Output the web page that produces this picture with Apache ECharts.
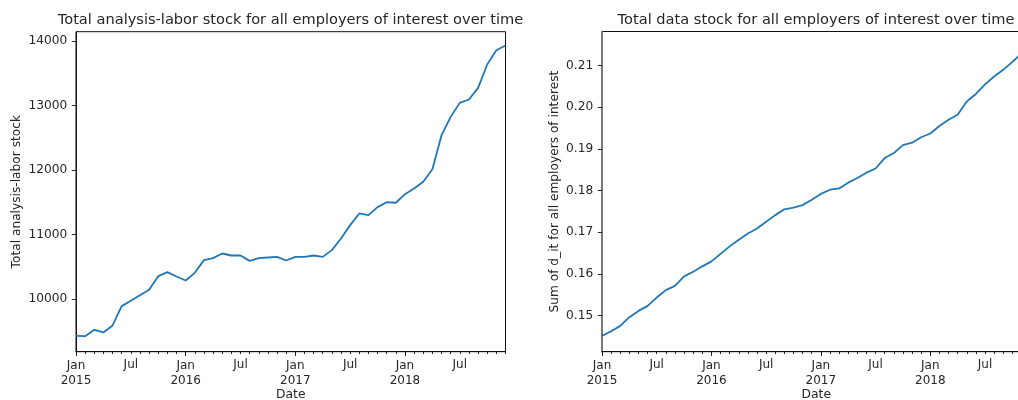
<!DOCTYPE html>
<html>
<head>
<meta charset="utf-8">
<script src="https://cdn.jsdelivr.net/npm/echarts@6/dist/echarts.min.js"></script>
<style>
html,body{margin:0;padding:0;background:#fff;}
#chart{width:1018px;height:400px;}
</style>
</head>
<body>
<div id="chart"></div>
<script>
// ---- data ----
const months = [
  '2015-01','2015-02','2015-03','2015-04','2015-05','2015-06','2015-07','2015-08','2015-09','2015-10','2015-11','2015-12',
  '2016-01','2016-02','2016-03','2016-04','2016-05','2016-06','2016-07','2016-08','2016-09','2016-10','2016-11','2016-12',
  '2017-01','2017-02','2017-03','2017-04','2017-05','2017-06','2017-07','2017-08','2017-09','2017-10','2017-11','2017-12',
  '2018-01','2018-02','2018-03','2018-04','2018-05','2018-06','2018-07','2018-08','2018-09','2018-10','2018-11','2018-12'
];
const laborStock = [
  9426, 9420, 9519, 9479, 9587, 9887, 9969, 10057, 10140, 10352, 10414, 10347,
  10285, 10403, 10600, 10631, 10703, 10672, 10672, 10589, 10631, 10641, 10651, 10594,
  10651, 10651, 10672, 10651, 10755, 10936, 11143, 11324, 11298, 11422, 11499, 11490,
  11623, 11711, 11817, 12011, 12538, 12822, 13039, 13091, 13271, 13634, 13856, 13929
];
const dataStock = [
  0.1451, 0.1462, 0.1475, 0.1496, 0.1511, 0.1523, 0.1543, 0.1561, 0.1571, 0.1594, 0.1605, 0.1618,
  0.1630, 0.1648, 0.1666, 0.1682, 0.1697, 0.1709, 0.1725, 0.1741, 0.1755, 0.1759, 0.1765, 0.1778,
  0.1792, 0.1802, 0.1805, 0.1819, 0.1830, 0.1843, 0.1853, 0.1878, 0.1890, 0.1909, 0.1915, 0.1928,
  0.1937, 0.1955, 0.1970, 0.1982, 0.2014, 0.2032, 0.2055, 0.2074, 0.2090, 0.2109, 0.2129, 0.2146
];
const leftTicks = [10000, 11000, 12000, 13000, 14000];
const rightTicks = [0.15, 0.16, 0.17, 0.18, 0.19, 0.20, 0.21];
const monthNames = {'01': 'Jan', '07': 'Jul'};

const leftTitle = 'Total analysis-labor stock for all employers of interest over time';
const rightTitle = 'Total data stock for all employers of interest over time';
const leftYName = 'Total analysis-labor stock';
const rightYName = 'Sum of d_it for all employers of interest';
const xName = 'Date';

// ---- styling ----
const FONT = 'DejaVu Sans';
const TXT = '#262626';
const BLUE = '#1f77b4';

const grids = [
  {left: 76, top: 31.7, width: 429.5, height: 320, show: true, borderColor: '#111', borderWidth: 1,
   backgroundColor: 'transparent', containLabel: false, outerBoundsMode: 'none'},
  {left: 602, top: 31.5, width: 428.6, height: 320.2, show: true, borderColor: '#111', borderWidth: 1,
   backgroundColor: 'transparent', containLabel: false, outerBoundsMode: 'none'}
];

function isJan(v) { return v.slice(5) === '01'; }
function isJul(v) { return v.slice(5) === '07'; }

function minorX(gi) {
  return {
    type: 'category', gridIndex: gi, data: months, boundaryGap: false, position: 'bottom',
    axisLine: {show: true, lineStyle: {color: '#111', width: 1}},
    axisTick: {show: true, interval: 0, length: 2.4, lineStyle: {color: '#111', width: 0.9}},
    axisLabel: {
      show: true, interval: (i, v) => isJul(v), margin: 5.6,
      fontFamily: FONT, fontSize: 12, color: TXT, verticalAlign: 'top', lineHeight: 14.4,
      formatter: v => isJul(v) ? monthNames['07'] : ''
    },
    splitLine: {show: false},
    name: xName, nameLocation: 'middle', nameGap: 37,
    nameTextStyle: {fontFamily: FONT, fontSize: 12.3, color: TXT, verticalAlign: 'top'}
  };
}
function majorX(gi) {
  return {
    type: 'category', gridIndex: gi, data: months, boundaryGap: false, position: 'bottom',
    axisLine: {show: false},
    axisTick: {show: true, interval: (i, v) => isJan(v), length: 4.3, lineStyle: {color: '#111', width: 0.9}},
    axisLabel: {
      show: true, interval: (i, v) => isJan(v), margin: 7.2,
      fontFamily: FONT, fontSize: 12, color: TXT, verticalAlign: 'top', lineHeight: 14.6,
      formatter: v => isJan(v) ? monthNames['01'] + '\n' + v.slice(0, 4) : ''
    },
    splitLine: {show: false}
  };
}
function yAxis(gi, min, max, ticks, name, gap, fmt, lineColor, lineWidth) {
  return {
    type: 'value', gridIndex: gi, min: min, max: max,
    axisLine: {show: true, lineStyle: {color: lineColor, width: lineWidth}},
    axisTick: {show: true, length: 4.2, customValues: ticks, lineStyle: {color: '#111', width: 0.9}},
    axisLabel: {show: true, customValues: ticks, margin: 8.8, fontFamily: FONT, fontSize: 12.2, color: TXT, formatter: fmt},
    splitLine: {show: false},
    name: name, nameLocation: 'middle', nameGap: gap,
    nameTextStyle: {fontFamily: FONT, fontSize: 12.2, color: TXT}
  };
}

const option = {
  animation: false,
  backgroundColor: '#ffffff',
  title: [
    {text: leftTitle, left: 290.5, top: 12.5, textAlign: 'center', padding: 0,
     textStyle: {fontFamily: FONT, fontSize: 14.6, fontWeight: 'normal', color: TXT}},
    {text: rightTitle, left: 816, top: 12.5, textAlign: 'center', padding: 0,
     textStyle: {fontFamily: FONT, fontSize: 14.6, fontWeight: 'normal', color: TXT}}
  ],
  grid: grids,
  xAxis: [minorX(0), majorX(0), minorX(1), majorX(1)],
  yAxis: [
    yAxis(0, 9180, 14143, leftTicks, leftYName, 53, v => String(v), '#111', 1),
    yAxis(1, 0.1413, 0.2182, rightTicks, rightYName, 41, v => v.toFixed(2), '#777', 1.8)
  ],
  series: [
    {type: 'line', xAxisIndex: 0, yAxisIndex: 0, data: laborStock, showSymbol: false, symbol: 'none',
     lineStyle: {color: BLUE, width: 1.8}, itemStyle: {color: BLUE}},
    {type: 'line', xAxisIndex: 2, yAxisIndex: 1, data: dataStock, showSymbol: false, symbol: 'none',
     lineStyle: {color: BLUE, width: 1.8}, itemStyle: {color: BLUE}}
  ]
};

const chart = echarts.init(document.getElementById('chart'), null, {renderer: 'canvas'});
chart.setOption(option);
</script>
</body>
</html>
